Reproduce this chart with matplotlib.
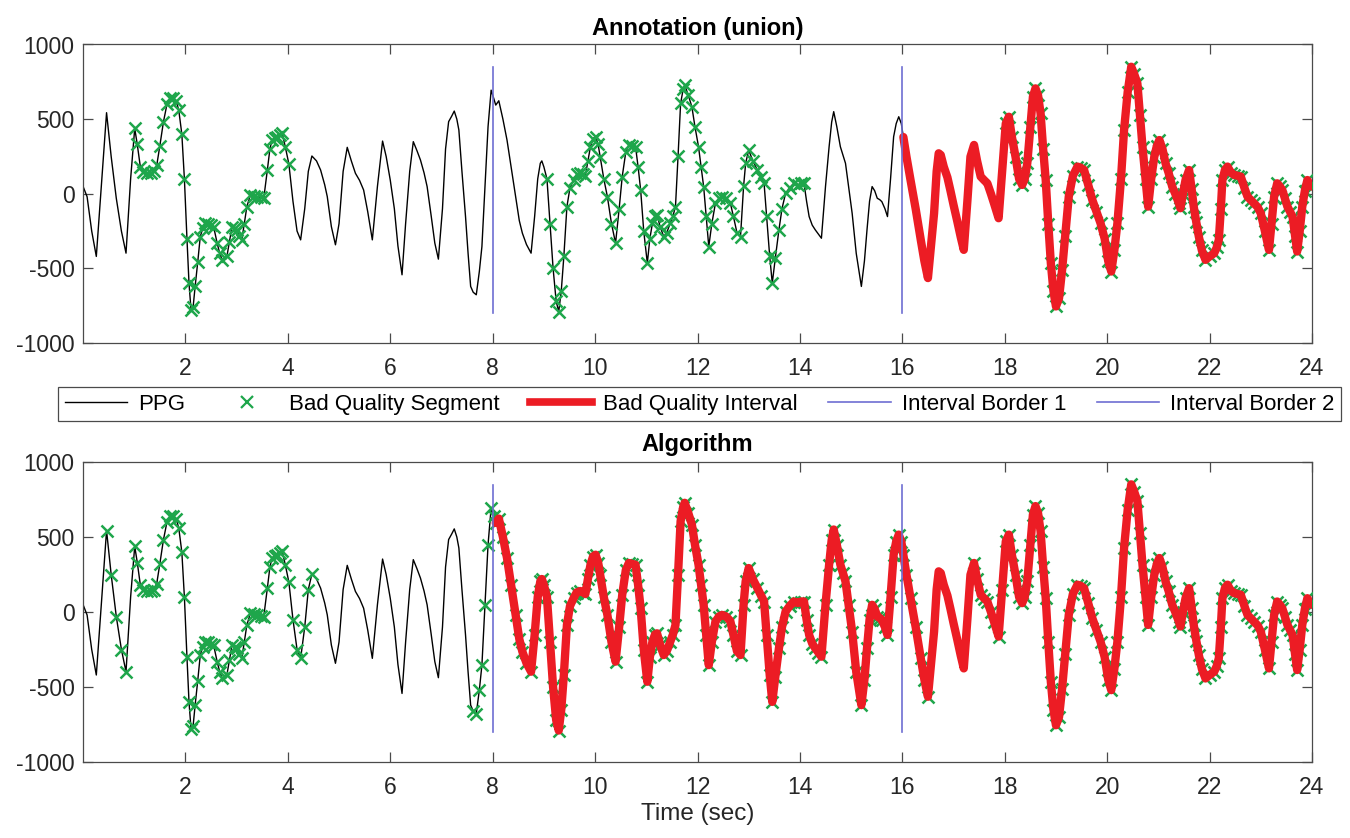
import numpy as np
import matplotlib
matplotlib.use("Agg")
import matplotlib.pyplot as plt
from matplotlib.lines import Line2D

plt.rcParams['font.family'] = ['Liberation Sans', 'DejaVu Sans']
plt.rcParams['axes.unicode_minus'] = False

# ---------------- data ----------------
ppg_time = [
    0.00, 0.08, 0.17, 0.26, 0.36, 0.46, 0.55, 0.65, 0.75, 0.84, 0.93, 1.01,
    1.06, 1.12, 1.18, 1.25, 1.32, 1.38, 1.44, 1.50, 1.57, 1.64, 1.70, 1.76,
    1.82, 1.87, 1.93, 1.98, 2.03, 2.07, 2.11, 2.15, 2.19, 2.24, 2.29, 2.34,
    2.39, 2.45, 2.50, 2.55, 2.62, 2.67, 2.72, 2.81, 2.86, 2.91, 2.96, 3.00,
    3.05, 3.10, 3.15, 3.20, 3.27, 3.34, 3.40, 3.47, 3.53, 3.60, 3.65, 3.69,
    3.74, 3.79, 3.84, 3.89, 3.95, 4.02,
    4.10, 4.18, 4.25, 4.33, 4.40, 4.47, 4.56, 4.64, 4.72, 4.77, 4.85, 4.93,
    5.00, 5.08, 5.16, 5.24, 5.32, 5.40, 5.48, 5.56, 5.65, 5.75, 5.85, 5.92,
    6.00, 6.08, 6.15, 6.23, 6.30, 6.38, 6.45, 6.52, 6.59, 6.66, 6.72, 6.80,
    6.87, 6.94, 7.02, 7.08, 7.14, 7.20, 7.25, 7.30, 7.34, 7.40, 7.47, 7.52,
    7.57, 7.62, 7.68, 7.74, 7.79, 7.85, 7.91, 7.97, 8.02, 8.06, 8.12, 8.20,
    8.28, 8.36, 8.45, 8.52, 8.58, 8.66, 8.75, 8.82, 8.88, 8.93, 8.96,
    9.00, 9.06, 9.12, 9.18, 9.24, 9.29, 9.34, 9.39, 9.45, 9.51, 9.58, 9.64,
    9.71, 9.77, 9.81, 9.86, 9.91, 9.96, 10.01, 10.06, 10.10, 10.17, 10.24,
    10.32, 10.40, 10.47, 10.53, 10.60, 10.66, 10.73, 10.79, 10.84, 10.89,
    10.95, 11.02, 11.07, 11.12, 11.17, 11.21, 11.27, 11.34, 11.40, 11.47,
    11.52, 11.57, 11.62, 11.67, 11.72, 11.75, 11.82, 11.89, 11.95, 12.02,
    12.07, 12.12, 12.17, 12.22, 12.28, 12.35, 12.42, 12.48, 12.56, 12.64,
    12.70, 12.77, 12.84, 12.90, 12.94, 13.00, 13.08, 13.17, 13.24, 13.30,
    13.35, 13.41, 13.46, 13.52, 13.59, 13.65, 13.72, 13.80, 13.88, 13.96,
    14.02, 14.08,
    14.13, 14.18, 14.24, 14.30, 14.36, 14.42, 14.50, 14.57, 14.62, 14.66,
    14.72, 14.79, 14.84, 14.89, 14.95, 15.02, 15.10, 15.20, 15.26, 15.31,
    15.36, 15.41, 15.46, 15.51, 15.56, 15.60, 15.66, 15.71, 15.77, 15.83,
    15.88, 15.93, 15.98, 16.02,
    16.08, 16.16, 16.26, 16.36, 16.43, 16.50, 16.56, 16.62, 16.67, 16.71,
    16.75, 16.81, 16.88, 16.94, 17.00, 17.07, 17.14, 17.20, 17.27, 17.33,
    17.40, 17.46, 17.53, 17.60, 17.66, 17.73, 17.79, 17.88, 17.95, 18.02,
    18.08, 18.14, 18.21, 18.28, 18.34, 18.39, 18.44, 18.50, 18.55, 18.60,
    18.65, 18.70, 18.75, 18.80, 18.85, 18.90, 18.95, 19.00, 19.06, 19.12,
    19.18, 19.25, 19.33, 19.42, 19.48, 19.55, 19.63, 19.71, 19.79, 19.87,
    19.95, 20.02, 20.08, 20.14, 20.20, 20.27, 20.33, 20.40, 20.47, 20.53,
    20.59, 20.64, 20.69, 20.75, 20.80, 20.86, 20.92, 20.97, 21.02, 21.08,
    21.14, 21.20, 21.27, 21.33, 21.40, 21.43, 21.48, 21.53, 21.60, 21.65,
    21.69, 21.74, 21.79, 21.85, 21.92, 22.00, 22.09, 22.14, 22.18, 22.22,
    22.25, 22.30, 22.35, 22.42, 22.48, 22.55, 22.61, 22.68, 22.74, 22.80,
    22.87, 22.94, 23.00, 23.08, 23.16, 23.21, 23.26, 23.32, 23.37, 23.42,
    23.47, 23.52, 23.57, 23.62, 23.67, 23.71, 23.76, 23.81, 23.86, 23.91,
    23.96, 24.00,
]
ppg_value = [
    50, -20, -250, -420, 60, 543, 250, -30, -250, -398, 100, 438,
    330, 180, 145, 140, 140, 150, 190, 320, 480, 600, 640, 640,
    620, 560, 400, 100, -300, -600, -780, -760, -620, -460, -287, -230,
    -197, -200, -210, -220, -331, -400, -443, -420, -320, -220, -230, -242,
    -280, -309, -200, -86, -8, -15, -19, -25, -30, 159, 300, 360,
    375, 382, 395, 405, 315, 200,
    -50, -250, -309, -100, 150, 253, 220, 159, 60, -19, -220, -342,
    -200, 150, 311, 220, 137, 90, 25, -120, -309, 50, 353, 250,
    92, -100, -350, -543, -200, 150, 349, 290, 226, 140, 48, -150,
    -330, -438, -100, 300, 483, 520, 554, 500, 427, 150, -153, -400,
    -621, -660, -677, -520, -354, 50, 450, 694, 640, 594, 623, 500,
    360, 180, -19, -180, -264, -340, -398, -150, 100, 204, 220,
    180, 100, -200, -500, -720, -790, -650, -420, -86, 40, 92, 130,
    140, 130, 120, 220, 315, 370, 382, 330, 248, 100, -19,
    -200, -331, -100, 115, 280, 327, 320, 315, 180, 25,
    -250, -465, -300, -197, -150, -142, -220, -287, -260, -197,
    -150, -86, 250, 605, 700, 728, 660, 583, 450, 315,
    180, 48, -150, -354, -200, -64, -30, -19, -30, -60,
    -150, -260, -287, 50, 204, 293, 220, 159, 110, 70,
    -150, -420, -599, -430, -242, -100, 3, 40, 70, 60,
    70, 70,
    -50, -153, -210, -242, -270, -298, 50, 315, 480, 550,
    450, 315, 260, 204, 50, -131, -400, -621, -450, -242,
    -50, 48, 20, -30, -40, -53, -100, -153, 100, 382,
    470, 516, 470, 380,
    250, 92, -100, -309, -450, -565, -350, -131, 150, 271,
    260, 180, 110, 20, -75, -180, -290, -376, -50, 248,
    327, 220, 115, 90, 70, 0, -64, -164, 150, 471,
    516, 380, 248, 100, 59, 100, 204, 450, 650, 706,
    660, 538, 300, 92, -200, -465, -650, -755, -700, -510,
    -280, -19, 120, 182, 175, 159, 60, -41, -120, -197,
    -300, -450, -521, -380, -197, 100, 427, 680, 851, 800,
    739, 530, 315, 100, -86, 100, 248, 320, 360, 300,
    204, 140, 48, 0, -64, -97, 0, 92, 159, 30,
    -86, -190, -287, -380, -443, -420, -398, -360, -309, -100,
    92, 160, 182, 140, 126, 120, 115, 40, -19, -40,
    -64, -90, -131, -250, -376, -200, -19, 70, 50, 25,
    -30, -86, -120, -153, -280, -387, -250, -86, 20, 92,
    60, 48,
]

# time ranges (s) flagged in each panel
annot_segments = [(1.00, 4.04), (9.04, 14.09), (17.98, 24.0)]
annot_intervals = [(16.0, 24.0)]
algo_segments = [(0.44, 0.86), (1.00, 4.52), (7.60, 16.52), (17.35, 24.0)]
algo_intervals = [(8.05, 24.0)]
border_times = [8, 16]
border_span = (-800, 850)
panel_titles = ["Annotation (union)", "Algorithm"]
legend_labels = ["PPG", "Bad Quality Segment", "Bad Quality Interval",
                 "Interval Border 1", "Interval Border 2"]
x_ticks = list(range(2, 25, 2))
y_ticks = [-1000, -500, 0, 500, 1000]

# ---------------- styling ----------------
C_GREEN = '#1ea64b'
C_RED = '#ec1c24'
C_BLUE = '#6e6ed2'
C_SPINE = '#4a4a4a'

t = np.array(ppg_time)
v = np.array(ppg_value, dtype=float)


def in_ranges(tt, ranges):
    m = np.zeros_like(tt, dtype=bool)
    for a, b in ranges:
        m |= (tt >= a) & (tt <= b)
    return m


fig = plt.figure(figsize=(13.5, 8.38), dpi=100)
W, H = 1350, 838
ax1 = fig.add_axes([83 / W, 1 - 343 / H, 1229 / W, 298.5 / H])
ax2 = fig.add_axes([83 / W, 1 - 762 / H, 1229 / W, 300 / H])

for ax, segs, ints, title, tpad in [
        (ax1, annot_segments, annot_intervals, panel_titles[0], 7),
        (ax2, algo_segments, algo_intervals, panel_titles[1], 8)]:
    ax.plot(t, v, color='black', lw=1.0, zorder=2)
    ms = in_ranges(t, segs)
    ax.plot(t, np.where(ms, v, np.nan), ls='none', marker='x',
            color=C_GREEN, ms=8, mew=1.8, zorder=3)
    mi = in_ranges(t, ints)
    ax.plot(t, np.where(mi, v, np.nan), color=C_RED, lw=6,
            solid_joinstyle='round', solid_capstyle='round', zorder=4)
    for bt in border_times:
        ax.plot([bt, bt], list(border_span), color=C_BLUE, lw=1.2, zorder=5)
    ax.set_xlim(0, 24)
    ax.set_ylim(-1000, 1000)
    ax.set_xticks(x_ticks)
    ax.set_yticks(y_ticks)
    ax.tick_params(axis='both', direction='in', top=True, right=True,
                   length=7, width=0.9, color=C_SPINE, labelsize=16.5,
                   labelcolor='#262626')
    ax.tick_params(axis='x', pad=10)
    ax.tick_params(axis='y', pad=6)
    for sp in ax.spines.values():
        sp.set_color(C_SPINE)
        sp.set_linewidth(0.9)
    ax.set_title(title, fontsize=17, fontweight='bold', pad=tpad)

ax2.set_xlabel("Time (sec)", fontsize=17.5, labelpad=3, color='#262626')

handles = [
    Line2D([], [], color='black', lw=1.0),
    Line2D([], [], ls='none', marker='x', color=C_GREEN, ms=8, mew=1.6),
    Line2D([], [], color=C_RED, lw=5.5),
    Line2D([], [], color=C_BLUE, lw=1.2),
    Line2D([], [], color=C_BLUE, lw=1.2),
]
leg = fig.legend(handles, legend_labels, ncol=5, mode='expand',
                 loc='center', bbox_to_anchor=(58 / W, 1 - 421 / H, 1283 / W, 34 / H),
                 fontsize=16, frameon=True, fancybox=False, framealpha=1,
                 edgecolor=C_SPINE, borderpad=0.3, handlelength=2.8,
                 handletextpad=0.5, borderaxespad=0)
leg.get_frame().set_linewidth(0.9)

fig.savefig("out.png", dpi=100)
